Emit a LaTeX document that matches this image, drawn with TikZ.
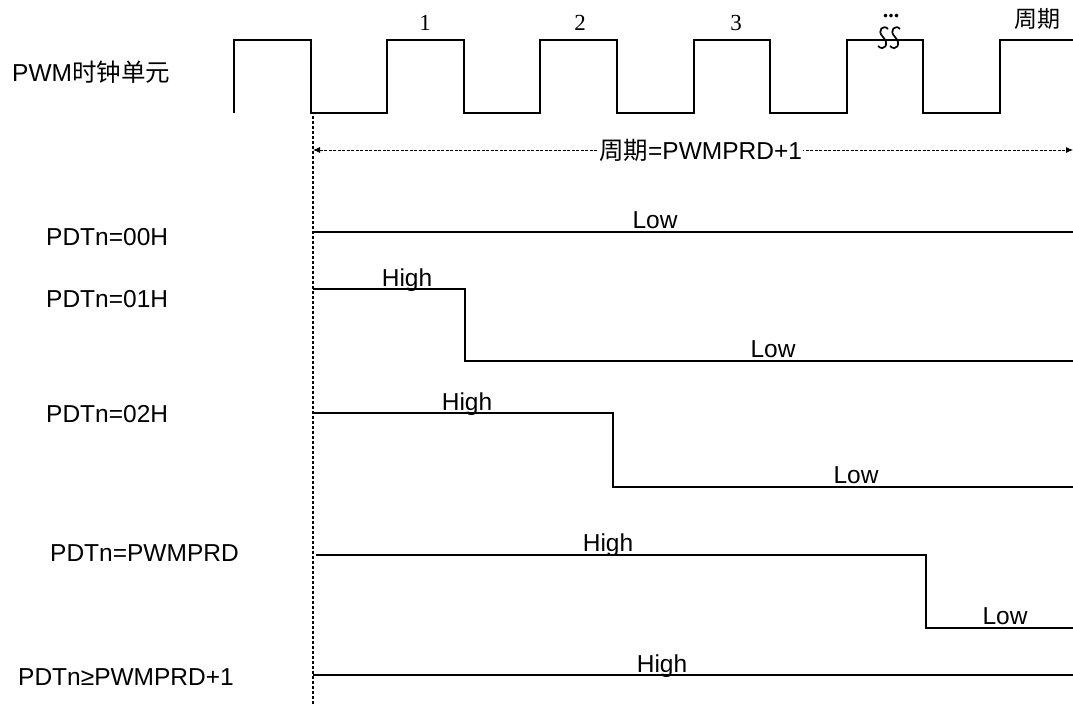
\documentclass[tikz,border=0pt]{standalone}
\usepackage{fontspec}
\setmainfont{Liberation Serif}
\setsansfont{Liberation Sans}
\newfontfamily\cjk{Noto Sans CJK SC}
\usetikzlibrary{arrows.meta}
\tikzset{
  onde/.style={line width=1.9pt, line join=miter},
  repere/.style={line width=1.8pt, dash pattern=on 3pt off 2pt},
  cote/.style={line width=0.8pt, dash pattern=on 3pt off 1.5pt,
    {Latex[length=7pt,width=6pt]}-{Latex[length=7pt,width=6pt]}},
  nom/.style={font=\sffamily\fontsize{24.5}{28}\selectfont, anchor=west, inner sep=0pt},
  niveau/.style={font=\sffamily\fontsize{24.5}{28}\selectfont, anchor=base, inner sep=0pt},
  numero/.style={font=\rmfamily\fontsize{23}{26}\selectfont, inner sep=0pt},
  coupure/.style={line width=1.7pt}
}

\begin{document}
\begin{tikzpicture}[x=1pt, y=-1pt]
  \useasboundingbox (0,0) rectangle (1073,704);

  % horloge
  \draw[onde] (234,113) \foreach \k in {0,...,4} {
      -- ++(0,-73) -- ++(76.6,0) -- ++(0,73) -- ++(76.6,0) }
    -- ++(0,-73) -- (1073,40);
  \node[numero] (un) at (425,23) {1};
  \node[numero] (deux) at (580,23) {2};
  \node[numero] (trois) at (736,23) {3};
  \node[numero, font=\rmfamily\bfseries\fontsize{22}{24}\selectfont, anchor=base] (pts) at (891,17) {...};
  \node[numero] (periode) at (1037,19) {\cjk 周期};
  \foreach \x in {883,895}
    \draw[coupure] (\x+5,29) .. controls (\x+1,24) and (\x-7,30) .. (\x,37)
      .. controls (\x+7,44) and (\x+1,52) .. (\x-5,46);
  \node[nom] (horloge) at (12,72) {PWM\cjk 时钟单元};

  % repere et periode
  \coordinate (haut) at (313,116);
  \coordinate (bas) at (313,704);
  \draw[repere] (haut) -- (bas);
  \coordinate (cg) at (313,150);
  \coordinate (cd) at (1073,150);
  \draw[cote] (cg) -- node[fill=white, inner sep=1pt,
    font=\sffamily\fontsize{24.5}{28}\selectfont, pos=0.51] (lperiode) {\cjk 周期\sffamily=PWMPRD+1} (cd);

  % PDTn=00H
  \node[nom] (p0) at (46,237) {PDTn=00H};
  \draw[onde] (313,232) -- (1073,232);
  \node[niveau] (p0bas) at (655,228) {Low};

  % PDTn=01H
  \node[nom] (p1) at (46,299) {PDTn=01H};
  \draw[onde] (313,289) -- (465,289) -- (465,361) -- (1073,361);
  \node[niveau] (p1haut) at (407,286) {High};
  \node[niveau] (p1bas) at (773,357) {Low};

  % PDTn=02H
  \node[nom] (p2) at (46,414) {PDTn=02H};
  \draw[onde] (313,413) -- (613,413) -- (613,487) -- (1073,487);
  \node[niveau] (p2haut) at (467,410) {High};
  \node[niveau] (p2bas) at (856,483) {Low};

  % PDTn=PWMPRD
  \node[nom] (p3) at (50,553) {PDTn=PWMPRD};
  \draw[onde] (316,555) -- (926,555) -- (926,628) -- (1073,628);
  \node[niveau] (p3haut) at (608,551) {High};
  \node[niveau] (p3bas) at (1005,624) {Low};

  % PDTn>=PWMPRD+1
  \node[nom] (p4) at (18,677) {PDTn≥PWMPRD+1};
  \draw[onde] (313,675) -- (1073,675);
  \node[niveau] (p4haut) at (662,672) {High};
\end{tikzpicture}
\end{document}
